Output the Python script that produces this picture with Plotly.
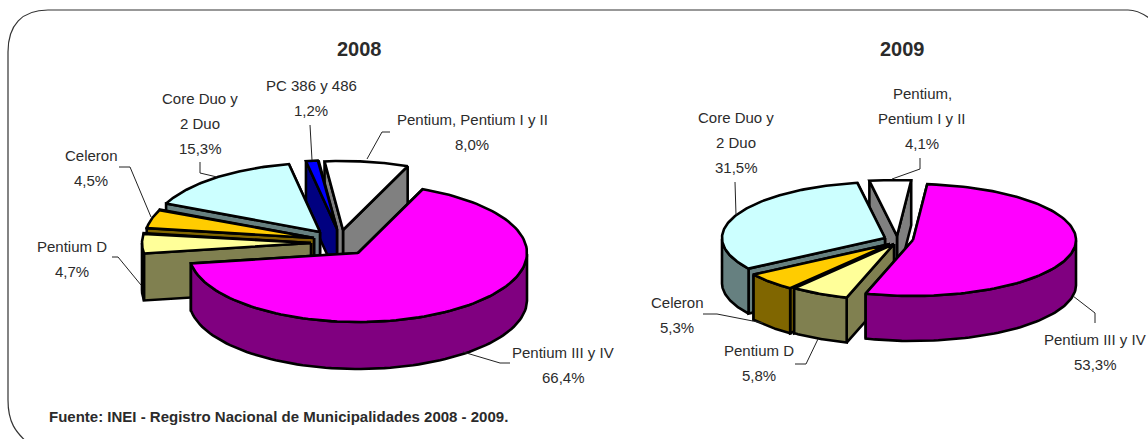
import numpy as np
import plotly.graph_objects as go

# ---- data (counter-clockwise, starting at the white slice) ----
cats_2008 = ["Pentium, Pentium I y II", "PC 386 y 486", "Core Duo y\n2 Duo", "Celeron", "Pentium D", "Pentium III y IV"]
vals_2008 = [8.0, 1.2, 15.3, 4.5, 4.7, 66.4]
cats_2009 = ["Pentium,\nPentium I y II", "Core Duo y\n2 Duo", "Celeron", "Pentium D", "Pentium III y IV"]
vals_2009 = [4.1, 31.5, 5.3, 5.8, 53.3]

# ---- styling / layout ----
TOP = {"Pentium, Pentium I y II": "#FFFFFF", "Pentium,\nPentium I y II": "#FFFFFF", "PC 386 y 486": "#0000FF",
       "Core Duo y\n2 Duo": "#CCFFFF", "Celeron": "#FFCC00", "Pentium D": "#FFFF99", "Pentium III y IV": "#FF00FF"}
SIDE = {"Pentium, Pentium I y II": "#808080", "Pentium,\nPentium I y II": "#808080", "PC 386 y 486": "#000080",
        "Core Duo y\n2 Duo": "#668080", "Celeron": "#806600", "Pentium D": "#808050", "Pentium III y IV": "#800080"}

pies = [
    dict(cats=cats_2008, vals=vals_2008, rx=169, ry=69, depth=47, start=67.5,
         apex=[(343, 230), (337, 229), (320, 232), (314, 238), (311, 243), (358, 253)],
         label=[(472, 119), (311, 85), (200, 98), (91, 155), (72, 246), (563, 352)]),
    dict(cats=cats_2009, vals=vals_2009, rx=163, ry=56, depth=45, start=85,
         apex=[(897, 236), (885, 238), (890, 244), (894, 244), (913, 240)],
         label=[(922, 93), (736, 117), (677, 302), (759, 350), (1095, 339)]),
]
titles = [("2008", 359, 49), ("2009", 902, 49)]
source = "Fuente: INEI - Registro Nacional de Municipalidades 2008 - 2009."
leaders = [
    [(310, 125), (312, 160)],
    [(200, 162), (200, 173), (217, 177)],
    [(390, 132), (382, 132), (367, 159)],
    [(119, 167), (130, 167), (151, 217)],
    [(112, 257), (118, 257), (141, 285)],
    [(510, 363), (500, 363), (463, 352)],
    [(1095, 323), (1095, 313), (1073, 296)],
    [(703, 314), (717, 314), (763, 323)],
    [(795, 364), (806, 364), (818, 339)],
    [(735, 182), (736, 215)],
    [(920, 158), (920, 169), (892, 179)],
]
FONT = "Liberation Sans, Arial, sans-serif"
TEXT = "#2b2b2b"
LINE_H = 25

fig = go.Figure()


def poly(xs, ys, color, name):
    fig.add_trace(go.Scatter(x=list(xs) + [xs[0]], y=list(ys) + [ys[0]], mode="lines", fill="toself",
                             fillcolor=color, line=dict(color="#000000", width=2.6),
                             name=name, hoverinfo="name", showlegend=False))


annotations = []
for p in pies:
    total = sum(p["vals"])
    t0 = p["start"]
    for cat, val, (cx, cy), (lx, ly) in zip(p["cats"], p["vals"], p["apex"], p["label"]):
        t1 = t0 + 360 * val / total
        t = np.radians(np.linspace(t0, t1, 120))
        ax = cx + p["rx"] * np.cos(t)
        ay = cy - p["ry"] * np.sin(t)
        d = p["depth"]
        name = cat.replace("\n", " ") + f" {val:.1f}%"
        # cut faces
        for i in (0, -1):
            poly([cx, ax[i], ax[i], cx], [cy, ay[i], ay[i] + d, cy + d], SIDE[cat], name)
        # outer rim, only where it faces the viewer
        front = np.sin(t) <= 0
        if front.sum() > 1:
            fx, fy = ax[front], ay[front]
            poly(list(fx) + list(fx[::-1]), list(fy) + list(fy[::-1] + d), SIDE[cat], name)
        # top face
        poly([cx] + list(ax), [cy] + list(ay), TOP[cat], name)
        # label
        lines = cat.split("\n") + [f"{val:.1f}%".replace(".", ",")]
        for n, line in enumerate(lines):
            annotations.append(dict(x=lx, y=ly + n * LINE_H, text=line, showarrow=False,
                                    xref="x", yref="y", xanchor="center", yanchor="middle",
                                    font=dict(family=FONT, size=15, color=TEXT)))
        t0 = t1

for title, x, y in titles:
    annotations.append(dict(x=x, y=y, text=f"<b>{title}</b>", showarrow=False, xref="x", yref="y",
                            font=dict(family=FONT, size=20, color=TEXT)))
annotations.append(dict(x=47, y=416, text=f"<b>{source}</b>", showarrow=False, xref="x", yref="y",
                        xanchor="left", font=dict(family=FONT, size=15, color=TEXT)))

shapes = [dict(type="path", xref="x", yref="y", line=dict(color="#333333", width=1.2),
               path="M 30,445 C 15,432 8,422 8,400 L 8,52 C 8,25 22,10 48,10 L 1128,10 C 1136,10 1142,13 1149,18")]
for pts in leaders:
    shapes.append(dict(type="path", xref="x", yref="y", line=dict(color="#222222", width=1),
                       path="M " + " L ".join(f"{x},{y}" for x, y in pts)))

fig.update_layout(
    width=1148, height=439, margin=dict(l=0, r=0, t=0, b=0),
    paper_bgcolor="#FFFFFF", plot_bgcolor="#FFFFFF", showlegend=False,
    xaxis=dict(range=[0, 1148], visible=False, fixedrange=True),
    yaxis=dict(range=[439, 0], visible=False, fixedrange=True),
    annotations=annotations, shapes=shapes,
)
fig.write_html("out.html", post_script="document.body.style.margin='0';document.body.style.overflow='hidden';",
               config=dict(displayModeBar=False))
